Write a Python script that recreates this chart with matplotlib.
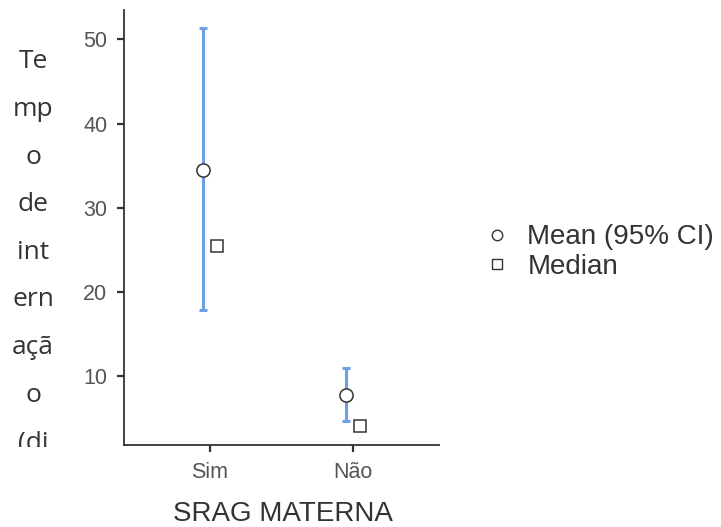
import matplotlib
matplotlib.use("Agg")
import matplotlib.pyplot as plt
from matplotlib.lines import Line2D
from matplotlib.transforms import Bbox, TransformedBbox

# data
groups = ["Sim", "Não"]
means = [34.5, 7.8]
ci_low = [17.8, 4.7]
ci_high = [51.3, 11.0]
medians = [25.5, 4.1]
ylabel_lines = ["Te", "mp", "o", "de", "int", "ern", "açã", "o", "(di"]
xlabel = "SRAG MATERNA"

W, H = 721, 527
fig = plt.figure(figsize=(W / 100, H / 100), dpi=100)
ax = fig.add_axes([124 / W, 1 - 445 / H, (439 - 124) / W, (445 - 10) / H])

BLUE = "#6f9fe6"
DARK = "#333333"
x = [1, 2]
dodge = 0.05
for i in range(2):
    ax.errorbar(x[i] - dodge, means[i],
                yerr=[[means[i] - ci_low[i]], [ci_high[i] - means[i]]],
                fmt="none", ecolor=BLUE, elinewidth=2.2, capsize=2.8, capthick=2.2, zorder=2)
ax.plot([xi - dodge for xi in x], means, "o", ms=9.5, mfc="white", mec=DARK, mew=1.1,
        ls="none", zorder=3)
ax.plot([xi + dodge for xi in x], medians, "s", ms=8.5, mfc="white", mec=DARK, mew=1.1,
        ls="none", zorder=3)

ax.set_xlim(0.4, 2.6)
ax.set_ylim(1.82, 53.48)
ax.set_xticks(x)
ax.set_xticklabels(groups)
ax.set_yticks([10, 20, 30, 40, 50])
for s in ["top", "right"]:
    ax.spines[s].set_visible(False)
for s in ["left", "bottom"]:
    ax.spines[s].set_color(DARK)
    ax.spines[s].set_linewidth(1.3)
ax.tick_params(length=5, width=1.6, color=DARK, labelcolor="#555555",
               labelsize=15.5, pad=7)
for lab in ax.get_xticklabels() + ax.get_yticklabels():
    lab.set_family("Liberation Sans")

fig.text(283 / W, 1 - 514 / H, xlabel, ha="center", va="center", fontsize=20,
         color=DARK, family="Liberation Sans")

# wrapped, clipped y-axis title
clip = TransformedBbox(Bbox.from_extents(0, 1 - 447 / H, 1, 1), fig.transFigure)
y0, step = 62, 47.6
for k, t in enumerate(ylabel_lines):
    tx = fig.text(33 / W, 1 - (y0 + k * step) / H, t, ha="center", va="center",
                  fontsize=19, color=DARK, family="Open Sans")
    tx.set_clip_box(clip)
    tx.set_clip_on(True)

handles = [
    Line2D([], [], marker="o", ls="none", ms=7.5, mfc="white", mec=DARK, mew=1.0),
    Line2D([], [], marker="s", ls="none", ms=7, mfc="white", mec=DARK, mew=1.0),
]
leg = fig.legend(handles, ["Mean (95% CI)", "Median"], loc="center left",
                 bbox_to_anchor=(483 / W, 1 - 252 / H), frameon=False,
                 prop={"family": "Liberation Sans", "size": 20},
                 handletextpad=0.6, labelspacing=0.12, handlelength=1.0,
                 borderpad=0.0, borderaxespad=0.0)
for t in leg.get_texts():
    t.set_color(DARK)

fig.savefig("out.png", dpi=100)
